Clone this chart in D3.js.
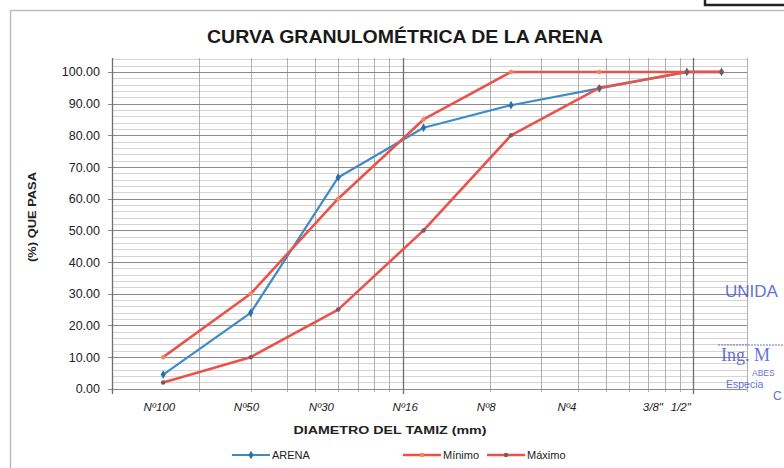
<!DOCTYPE html>
<html>
<head>
<meta charset="utf-8">
<script src="https://cdn.jsdelivr.net/npm/d3@7"></script>
<style>
  html, body { margin: 0; padding: 0; background: #fff; }
  svg { display: block; }
</style>
</head>
<body>
<svg id="chart" width="784" height="468"></svg>
<script>
// ---- data ----
const sieveSizes = [0.15, 0.3, 0.6, 1.18, 2.36, 4.75, 9.5, 12.5];
const arena  = [4.5, 24.0, 66.7, 82.4, 89.5, 94.8, 100, 100];
const minimo = [10, 30, 60, 85, 100, 100, 100, 100];
const maximo = [2, 10, 25, 50, 80, 95, 100, 100];
const xTickLabels = ["N\u00BA100", "N\u00BA50", "N\u00BA30", "N\u00BA16", "N\u00BA8", "N\u00BA4", "3/8\"", "1/2\""];
const xTickAt = [0.145, 0.289, 0.523, 1.016, 1.93, 3.66, 7.23, 9.02];
const yTicks = [0, 10, 20, 30, 40, 50, 60, 70, 80, 90, 100];
const xMajorGrid = [0.1, 1, 10];
const xMinorGrid = [0.2,0.3,0.4,0.5,0.6,0.7,0.8,0.9,2,3,4,5,6,7,8,9];
const yMinorGrid = d3.range(0, 105, 2);

const svg = d3.select("#chart");
const L = 112, R = 747, T = 58, B = 392;
const x = d3.scaleLog().domain([0.1, 15.3]).range([L, R]);
const y = d3.scaleLinear().domain([-1, 104.4]).range([B, T]);

// outer frame
svg.append("rect").attr("x", 10.5).attr("y", 10.5).attr("width", 800).attr("height", 470)
  .attr("fill", "none").attr("stroke", "#bdbdbd").attr("stroke-width", 1.5);
// top-right box
svg.append("rect").attr("x", 705).attr("y", -10).attr("width", 100).attr("height", 15)
  .attr("fill", "none").attr("stroke", "#222").attr("stroke-width", 2.5);

// title
svg.append("text").attr("x", 405).attr("y", 43).attr("text-anchor", "middle")
  .attr("font-family", "'Liberation Sans Narrow', 'Liberation Sans', Arial, sans-serif")
  .attr("font-weight", "bold").attr("font-size", 19)
  .attr("textLength", 396).attr("lengthAdjust", "spacingAndGlyphs")
  .attr("fill", "#1a1a1a").text("CURVA GRANULOMÉTRICA DE LA ARENA");

// grid
const g = svg.append("g");
g.selectAll(".hmin").data(yMinorGrid).enter().append("line")
  .attr("x1", L).attr("x2", R).attr("y1", d => Math.round(y(d)) + 0.5).attr("y2", d => Math.round(y(d)) + 0.5)
  .attr("stroke", "#d4d4d4").attr("stroke-width", 1);
g.selectAll(".vmin").data(xMinorGrid).enter().append("line")
  .attr("y1", T).attr("y2", B).attr("x1", d => Math.round(x(d)) + 0.5).attr("x2", d => Math.round(x(d)) + 0.5)
  .attr("stroke", "#b0b0b0").attr("stroke-width", 1);
g.selectAll(".hmaj").data(yTicks).enter().append("line")
  .attr("x1", L - 4).attr("x2", R).attr("y1", d => Math.round(y(d)) + 0.5).attr("y2", d => Math.round(y(d)) + 0.5)
  .attr("stroke", "#8a8a8a").attr("stroke-width", 1.2);
g.selectAll(".vmaj").data(xMajorGrid).enter().append("line")
  .attr("y1", T).attr("y2", B + 2).attr("x1", d => Math.round(x(d)) + 0.5).attr("x2", d => Math.round(x(d)) + 0.5)
  .attr("stroke", "#6f6f6f").attr("stroke-width", 1.3);
g.append("line").attr("x1", R + 0.5).attr("x2", R + 0.5).attr("y1", T).attr("y2", B)
  .attr("stroke", "#b0b0b0");

// y axis labels
const yAxis = d3.axisLeft(y).tickValues(yTicks).tickSize(0).tickPadding(0)
  .tickFormat(d => d.toFixed(2));
const ya = svg.append("g").attr("transform", `translate(${L - 12},0)`).call(yAxis);
ya.select(".domain").remove();
ya.selectAll("text").attr("font-family", "'Liberation Sans', Arial, sans-serif")
  .attr("font-size", 12.5).attr("fill", "#222");

// y axis title
svg.append("text").attr("transform", "translate(36,217) rotate(-90)")
  .attr("text-anchor", "middle").attr("font-family", "'Liberation Sans', Arial, sans-serif")
  .attr("font-weight", "bold").attr("font-size", 11.5).attr("fill", "#222")
  .attr("textLength", 90).attr("lengthAdjust", "spacingAndGlyphs")
  .text("(%) QUE PASA");

// x axis labels
const xAxis = d3.axisBottom(x).tickValues(xTickAt).tickSize(0).tickPadding(0)
  .tickFormat((d, i) => xTickLabels[i]);
const xa = svg.append("g").attr("transform", `translate(0,${B + 11})`).call(xAxis);
xa.select(".domain").remove();
xa.selectAll("text").attr("font-family", "'Liberation Sans', Arial, sans-serif")
  .attr("font-style", "italic").attr("font-size", 11.5).attr("fill", "#222");

// x axis title
svg.append("text").attr("x", 390).attr("y", 434).attr("text-anchor", "middle")
  .attr("font-family", "'Liberation Sans', Arial, sans-serif").attr("font-weight", "bold")
  .attr("font-size", 11).attr("fill", "#222").attr("textLength", 193).attr("lengthAdjust", "spacingAndGlyphs")
  .text("DIAMETRO DEL TAMIZ  (mm)");

// series
const series = [
  { name: "ARENA", values: arena, color: "#3f8bc6", marker: "#2a6fa8", shape: d3.symbolDiamond, size: 22, width: 2.2 },
  { name: "Mínimo", values: minimo, color: "#e8544c", marker: "#f08a5a", shape: d3.symbolCircle, size: 16, width: 2.6 },
  { name: "Máximo", values: maximo, color: "#e8544c", marker: "#7a5a5a", shape: d3.symbolCircle, size: 16, width: 2.6 }
];
const line = d3.line().x(d => x(d[0])).y(d => y(d[1]));
series.forEach(s => {
  const pts = sieveSizes.map((v, i) => [v, s.values[i]]);
  svg.append("path").datum(pts).attr("d", line).attr("fill", "none")
    .attr("stroke", s.color).attr("stroke-width", s.width).attr("stroke-linejoin", "round");
  svg.selectAll(null).data(pts).enter().append("path")
    .attr("d", d3.symbol().type(s.shape).size(s.size))
    .attr("transform", d => `translate(${x(d[0])},${y(d[1])})`)
    .attr("fill", s.marker);
});

// legend
const legendX = [232, 403, 487];
series.forEach((s, i) => {
  const lg = svg.append("g").attr("transform", `translate(${legendX[i]},455)`);
  lg.append("line").attr("x1", 0).attr("x2", 38).attr("y1", 0).attr("y2", 0)
    .attr("stroke", s.color).attr("stroke-width", s.width);
  lg.append("path").attr("d", d3.symbol().type(s.shape).size(s.size)).attr("transform", "translate(19,0)")
    .attr("fill", s.marker);
  lg.append("text").attr("x", 40).attr("y", 4).attr("font-family", "'Liberation Sans', Arial, sans-serif")
    .attr("font-size", 11).attr("fill", "#222").text(s.name);
});

// stamp (blue ink)
const ink = "#4a5ad0";
svg.append("text").attr("x", 725).attr("y", 297).attr("font-family", "'Liberation Sans', Arial, sans-serif")
  .attr("font-size", 17).attr("fill", ink).attr("opacity", 0.85).text("UNIDA");
svg.append("line").attr("x1", 718).attr("x2", 784).attr("y1", 345).attr("y2", 345)
  .attr("stroke", ink).attr("stroke-width", 1.2).attr("stroke-dasharray", "2,1").attr("opacity", 0.85);
svg.append("text").attr("x", 721).attr("y", 361).attr("font-family", "'Liberation Serif', 'Times New Roman', serif")
  .attr("font-size", 18).attr("fill", ink).attr("opacity", 0.85).text("Ing. M");
svg.append("text").attr("x", 752).attr("y", 376).attr("font-family", "'Liberation Sans', Arial, sans-serif")
  .attr("font-size", 8.5).attr("fill", ink).attr("opacity", 0.85).text("ABES");
svg.append("text").attr("x", 726).attr("y", 388).attr("font-family", "'Liberation Sans', Arial, sans-serif")
  .attr("font-size", 10.5).attr("fill", ink).attr("opacity", 0.85).text("Especia");
svg.append("text").attr("x", 773).attr("y", 400).attr("font-family", "'Liberation Sans', Arial, sans-serif")
  .attr("font-size", 12).attr("fill", ink).attr("opacity", 0.85).text("C");
</script>
</body>
</html>
